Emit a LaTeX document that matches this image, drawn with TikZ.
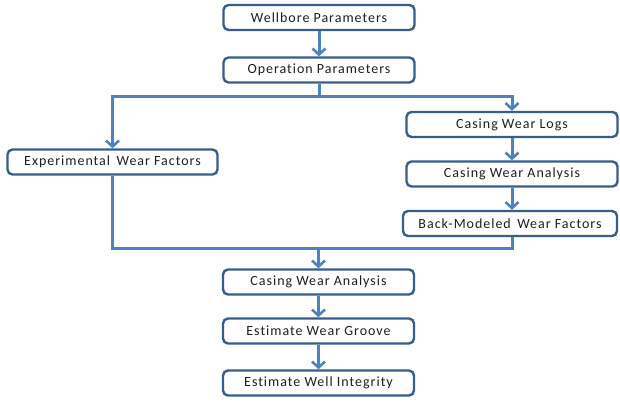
\documentclass[tikz,border=0pt]{standalone}
\usepackage{fontspec}
\setmainfont{Carlito}[LetterSpace=7, Ligatures={NoCommon}]
\usetikzlibrary{arrows.meta}
\definecolor{boxline}{HTML}{385D8A}
\definecolor{flow}{HTML}{4F81BD}
\tikzset{
  stepbox/.style={draw=boxline, line width=2.4pt, rounded corners=5pt, fill=white,
    minimum height=25pt, inner sep=0pt, font=\fontsize{14}{16}\selectfont, text=black!88},
  flowline/.style={draw=flow, line width=3pt},
  flowarrow/.style={flowline, -{Straight Barb[length=6pt,width=13pt,line width=2.6pt]}},
}
\begin{document}
\begin{tikzpicture}[x=1pt,y=-1pt]
\useasboundingbox (0,0) rectangle (620,401);
% centre column
\node[stepbox, minimum width=191pt] (wb)   at (319,17.5) {Wellbore Parameters};
\node[stepbox, minimum width=191pt] (op)   at (319,70)   {Operation Parameters};
% left branch
\node[stepbox, minimum width=210pt] (exp)  at (112.5,162) {Experimental\, Wear Factors};
% right branch
\node[stepbox, minimum width=211pt] (logs) at (512,124.5) {Casing Wear Logs};
\node[stepbox, minimum width=211pt] (cwa1) at (512,174)  {Casing Wear Analysis};
\node[stepbox, minimum width=214pt] (back) at (510,223.5) {Back-Modeled\, Wear Factors};
% merged column
\node[stepbox, minimum width=191pt] (cwa2) at (318.5,282) {Casing Wear Analysis};
\node[stepbox, minimum width=191pt] (grv)  at (318.5,331) {Estimate Wear Groove};
\node[stepbox, minimum width=191pt] (wi)   at (318.5,383) {Estimate Well Integrity};

\coordinate (split) at (319,97);
\coordinate (merge) at (318.5,248);

\draw[flowarrow] (wb) -- (op);
\draw[flowline] (op.south) -- (split);
\draw[flowarrow] (split) -| (exp.north);
\draw[flowarrow] (split) -| (logs.north);
\draw[flowarrow] (logs) -- (cwa1);
\draw[flowarrow] (cwa1.south) -- (cwa1.south |- back.north);
\draw[flowline] (exp.south) |- (merge);
\draw[flowline] (back.south -| cwa1.south) |- (merge);
\draw[flowarrow] (merge) -- (cwa2.north);
\draw[flowarrow] (cwa2) -- (grv);
\draw[flowarrow] (grv) -- (wi);
\end{tikzpicture}
\end{document}
